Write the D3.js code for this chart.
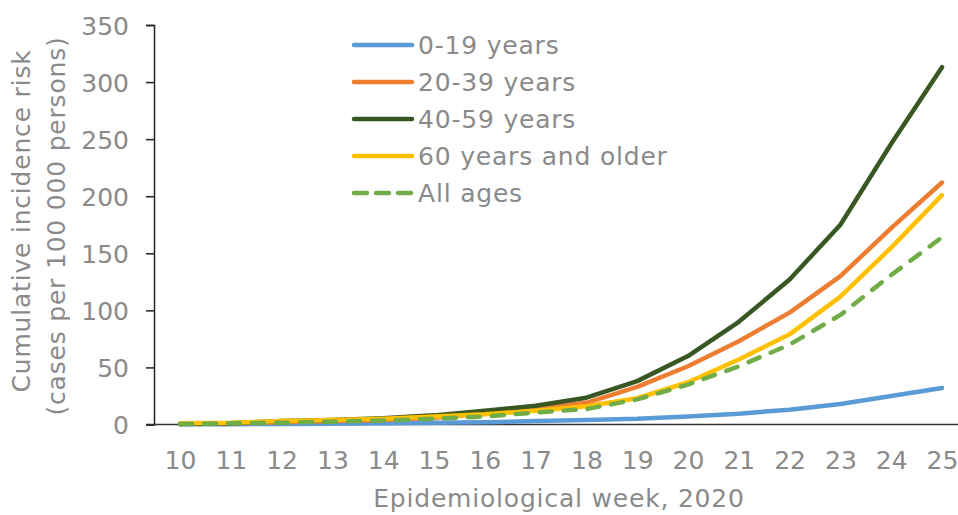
<!DOCTYPE html>
<html>
<head>
<meta charset="utf-8">
<script src="https://cdn.jsdelivr.net/npm/d3@7"></script>
<style>
  body { margin: 0; background: #fff; }
  text { font-family: "DejaVu Sans", sans-serif; fill: #8a8a8a; }
  .label { font-size: 25px; letter-spacing: 0.8px; }
</style>
</head>
<body>
<div id="chart"></div>
<script>
// epidemiological weeks
var weeks = [10, 11, 12, 13, 14, 15, 16, 17, 18, 19, 20, 21, 22, 23, 24, 25];

// cumulative incidence per 100 000
var age0to19  = [0.2, 0.3, 0.5, 0.7, 1, 1.5, 2, 3, 4, 5, 7, 9.5, 13, 18, 25, 32];
var age20to39 = [0.5, 1, 2, 3, 4, 6, 9.5, 14, 19, 33, 51, 73, 98, 130, 172, 212];
var age40to59 = [0.5, 1, 3, 4, 5.5, 8, 12, 16.5, 23.5, 38, 60, 90, 127, 175, 246, 313];
var age60plus = [1, 1.5, 3, 4, 5, 7, 9, 12, 16, 23, 37, 57, 79, 112, 155, 201];
var allAges   = [0.5, 1, 1.5, 2.5, 3.5, 5, 7, 10.5, 13.5, 22, 35, 51, 70, 96, 131, 164];

var yTicks = [0, 50, 100, 150, 200, 250, 300, 350];

var series = [
  {name: "0-19 years", values: age0to19, color: "#5b9bd5", dash: null},
  {name: "20-39 years", values: age20to39, color: "#ed7d31", dash: null},
  {name: "40-59 years", values: age40to59, color: "#385723", dash: null},
  {name: "60 years and older", values: age60plus, color: "#ffc000", dash: null},
  {name: "All ages", values: allAges, color: "#70ad47", dash: "12,12"}
];

var width = 958, height = 515;

var svg = d3.select("#chart").append("svg")
    .attr("width", width)
    .attr("height", height);

var x = d3.scalePoint().domain(weeks).range([180, 942]),
    y = d3.scaleLinear().domain([0, 350]).range([424.5, 25]);

// y axis
var yAxis = svg.append("g")
    .attr("transform", "translate(154,0)")
    .call(d3.axisLeft(y).tickValues(yTicks).tickSize(8).tickPadding(17));
yAxis.select(".domain").attr("stroke", "#222").attr("stroke-width", 1.5);
yAxis.selectAll(".tick line").attr("stroke", "#222").attr("stroke-width", 1.5);
yAxis.selectAll(".tick text")
    .style("font-size", "25px")
    .attr("fill", "#8a8a8a")
    .attr("dy", "0.36em");

// x axis (no ticks, labels only)
var xAxis = svg.append("g")
    .attr("transform", "translate(0,424.5)")
    .call(d3.axisBottom(x).tickSize(0).tickPadding(35));
xAxis.select(".domain").remove();
xAxis.selectAll(".tick text")
    .style("font-size", "25px")
    .attr("fill", "#8a8a8a")
    .attr("dy", "0.36em");
svg.append("line")
    .attr("x1", 146).attr("x2", 958)
    .attr("y1", 424.5).attr("y2", 424.5)
    .attr("stroke", "#333").attr("stroke-width", 1.5);

// lines
var line = d3.line()
    .x(function(d, i) { return x(weeks[i]); })
    .y(function(d) { return y(d); });

svg.selectAll(".series")
  .data(series)
  .enter().append("path")
    .attr("class", "series")
    .attr("d", function(d) { return line(d.values); })
    .attr("fill", "none")
    .attr("stroke", function(d) { return d.color; })
    .attr("stroke-width", 4.5)
    .attr("stroke-linejoin", "round")
    .attr("stroke-linecap", "round")
    .attr("stroke-dasharray", function(d) { return d.dash; });

// legend
var legend = svg.selectAll(".legend")
  .data(series)
  .enter().append("g")
    .attr("class", "legend")
    .attr("transform", function(d, i) { return "translate(354," + (45 + i * 37) + ")"; });

legend.append("line")
    .attr("x1", 0).attr("x2", 58)
    .attr("stroke", function(d) { return d.color; })
    .attr("stroke-width", 4.5)
    .attr("stroke-linecap", "round")
    .attr("stroke-dasharray", function(d) { return d.dash ? "13,9" : null; });

legend.append("text")
    .attr("class", "label")
    .attr("x", 64)
    .attr("dy", "0.36em")
    .text(function(d) { return d.name; });

// axis titles
svg.append("text")
    .attr("class", "label")
    .attr("transform", "translate(30,221) rotate(-90)")
    .attr("text-anchor", "middle")
    .text("Cumulative incidence risk");
svg.append("text")
    .attr("class", "label")
    .attr("transform", "translate(65,226) rotate(-90)")
    .attr("text-anchor", "middle")
    .text("(cases per 100 000 persons)");

svg.append("text")
    .attr("class", "label")
    .attr("x", 559)
    .attr("y", 507)
    .attr("text-anchor", "middle")
    .text("Epidemiological week, 2020");
</script>
</body>
</html>
